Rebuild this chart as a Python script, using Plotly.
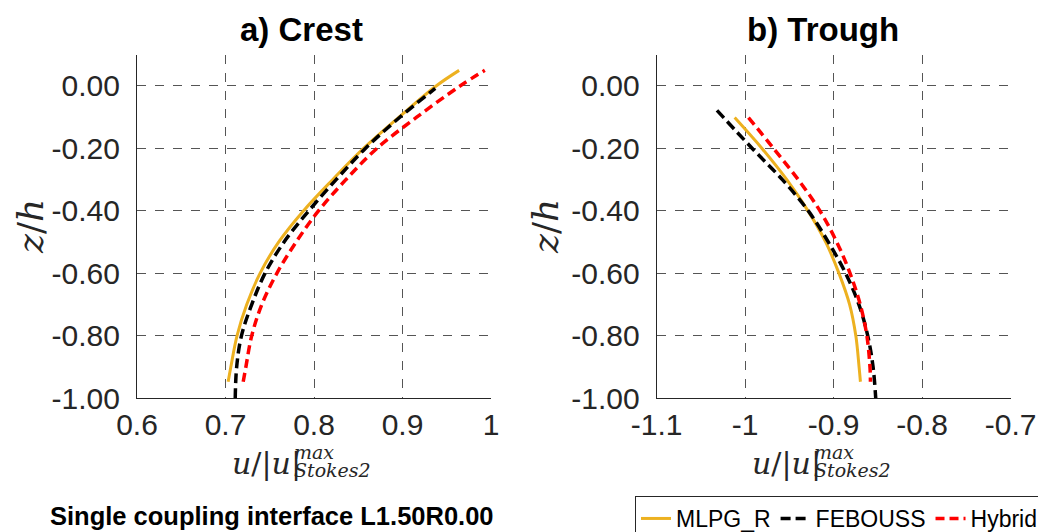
import plotly.graph_objects as go

# ---------------- data ----------------
series_names = ["MLPG_R", "FEBOUSS", "Hybrid"]

# a) Crest
crest_z_mlpg = [-0.947, -0.9, -0.8, -0.7, -0.6, -0.5, -0.4, -0.3, -0.2, -0.1, 0.0, 0.05]
crest_u_mlpg = [0.703, 0.706, 0.713, 0.724, 0.739, 0.760, 0.788, 0.821, 0.856, 0.896, 0.938, 0.964]
crest_z_feb = [-1.0, -0.9, -0.8, -0.7, -0.6, -0.5, -0.4, -0.3, -0.2, -0.1, -0.008]
crest_u_feb = [0.711, 0.7126, 0.718, 0.7296, 0.7446, 0.766, 0.794, 0.825, 0.858, 0.897, 0.937]
crest_z_hyb = [-0.947, -0.9, -0.8, -0.7, -0.6, -0.5, -0.4, -0.3, -0.2, -0.1, 0.0, 0.05]
crest_u_hyb = [0.720, 0.723, 0.7296, 0.741, 0.758, 0.7797, 0.805, 0.836, 0.871, 0.916, 0.965, 0.993]

# b) Trough
trough_z_mlpg = [-0.101, -0.2, -0.3, -0.4, -0.5, -0.6, -0.7, -0.8, -0.9, -0.947]
trough_u_mlpg = [-1.0119, -0.981, -0.953, -0.929, -0.909, -0.894, -0.882, -0.875, -0.8713, -0.8698]
trough_z_feb = [-0.078, -0.2, -0.3, -0.4, -0.5, -0.6, -0.7, -0.8, -0.9, -1.0]
trough_u_feb = [-1.0319, -0.992, -0.958, -0.9287, -0.906, -0.8865, -0.8715, -0.8615, -0.8555, -0.8525]
trough_z_hyb = [-0.101, -0.2, -0.3, -0.4, -0.5, -0.6, -0.7, -0.8, -0.9, -0.947]
trough_u_hyb = [-0.9963, -0.968, -0.940, -0.9155, -0.8965, -0.8815, -0.870, -0.8625, -0.859, -0.8585]

# ticks
y_tickvals = [0.0, -0.2, -0.4, -0.6, -0.8, -1.0]
y_ticktext = ["0.00", "-0.20", "-0.40", "-0.60", "-0.80", "-1.00"]
crest_xtickvals = [0.6, 0.7, 0.8, 0.9, 1.0]
crest_xticktext = ["0.6", "0.7", "0.8", "0.9", "1"]
trough_xtickvals = [-1.1, -1.0, -0.9, -0.8, -0.7]
trough_xticktext = ["-1.1", "-1", "-0.9", "-0.8", "-0.7"]

panel_titles = ["a) Crest", "b) Trough"]
footer_text = "Single coupling interface L1.50R0.00"

# ---------------- styles ----------------
colors = ["#EDB120", "#000000", "#FF0000"]
dashes = ["solid", "10px,5px", "9px,5px"]
widths = [3, 3.5, 3.5]

W, H = 1038, 532
fig = go.Figure()

crest = [(crest_u_mlpg, crest_z_mlpg), (crest_u_feb, crest_z_feb), (crest_u_hyb, crest_z_hyb)]
trough = [(trough_u_mlpg, trough_z_mlpg), (trough_u_feb, trough_z_feb), (trough_u_hyb, trough_z_hyb)]

for i, (u, z) in enumerate(crest):
    fig.add_trace(go.Scatter(x=u, y=z, mode="lines", name=series_names[i],
                             line=dict(color=colors[i], dash=dashes[i], width=widths[i], shape="spline"),
                             xaxis="x", yaxis="y", showlegend=True))
for i, (u, z) in enumerate(trough):
    fig.add_trace(go.Scatter(x=u, y=z, mode="lines", name=series_names[i],
                             line=dict(color=colors[i], dash=dashes[i], width=widths[i], shape="spline"),
                             xaxis="x2", yaxis="y2", showlegend=False))

tickfont = dict(family="Liberation Sans, Arial, sans-serif", size=30, color="#262626")
ydom = [1 - 398.3 / H, 1 - 54.75 / H]

common_x = dict(showgrid=True, gridcolor="#555555", griddash="dash", gridwidth=1,
                showline=True, linecolor="#262626", linewidth=1.2, zeroline=False,
                tickfont=tickfont, ticks="", ticklabelstandoff=0, automargin=False)
common_y = dict(showgrid=True, gridcolor="#555555", griddash="dash", gridwidth=1,
                showline=True, linecolor="#262626", linewidth=1.2, zeroline=False,
                tickfont=tickfont, ticks="", ticklabelstandoff=10, automargin=False,
                range=[-1.0, 0.1], tickvals=y_tickvals, ticktext=y_ticktext)

fig.update_layout(
    width=W, height=H,
    margin=dict(l=0, r=0, t=0, b=0, pad=0, autoexpand=False),
    paper_bgcolor="white", plot_bgcolor="white",
    xaxis=dict(domain=[137 / W, 491 / W], range=[0.6, 1.0], anchor="y",
               tickvals=crest_xtickvals, ticktext=crest_xticktext, **common_x),
    xaxis2=dict(domain=[656.7 / W, 1010.7 / W], range=[-1.1, -0.7], anchor="y2",
                tickvals=trough_xtickvals, ticktext=trough_xticktext, **common_x),
    yaxis=dict(domain=ydom, anchor="x", **common_y),
    yaxis2=dict(domain=ydom, anchor="x2", **common_y),
    legend=dict(orientation="h", x=635 / W, xanchor="left", y=1 - 496 / H, yanchor="top",
                bordercolor="#262626", borderwidth=1, bgcolor="white",
                font=dict(family="Liberation Sans, Arial, sans-serif", size=23, color="black"),
                itemwidth=30, tracegroupgap=0, traceorder="normal"),
    showlegend=True,
)

def px_x(x):
    return x / W

def px_y(y):
    return 1 - y / H

ann = []
# panel titles
for cx, t in zip([301, 823], panel_titles):
    ann.append(dict(x=px_x(cx), y=px_y(29), xref="paper", yref="paper", text="<b>" + t + "</b>",
                    showarrow=False, xanchor="center", yanchor="middle",
                    font=dict(family="Liberation Sans, Arial, sans-serif", size=33, color="black")))
# y-axis titles
for cx in [30, 545]:
    ann.append(dict(x=px_x(cx), y=px_y(227), xref="paper", yref="paper", text="<i>z</i>/<i>h</i>",
                    showarrow=False, xanchor="center", yanchor="middle", textangle=-90,
                    font=dict(family="DejaVu Serif, serif", size=36, color="#262626")))
# x-axis titles (u/|u| with stacked max / Stokes2)
for off in [0, 520]:
    ann.append(dict(x=px_x(302 + off), y=px_y(463), xref="paper", yref="paper",
                    text="<i>u</i>/|<i>u</i>|", showarrow=False, xanchor="right", yanchor="middle",
                    align="right", borderpad=0,
                    font=dict(family="DejaVu Serif, serif", size=30, color="#262626")))
    ann.append(dict(x=px_x(293 + off), y=px_y(452), xref="paper", yref="paper",
                    text="<i>max</i>", showarrow=False, xanchor="left", yanchor="middle",
                    align="left", borderpad=0,
                    font=dict(family="DejaVu Serif, serif", size=19, color="#262626")))
    ann.append(dict(x=px_x(293 + off), y=px_y(470), xref="paper", yref="paper",
                    text="<i>Stokes2</i>", showarrow=False, xanchor="left", yanchor="middle",
                    align="left", borderpad=0,
                    font=dict(family="DejaVu Serif, serif", size=19, color="#262626")))
# footer
ann.append(dict(x=px_x(272), y=px_y(516), xref="paper", yref="paper", text="<b>" + footer_text + "</b>",
                showarrow=False, xanchor="center", yanchor="middle",
                font=dict(family="Liberation Sans, Arial, sans-serif", size=25.5, color="black")))

fig.update_layout(annotations=ann)
fig.write_html("out.html")
